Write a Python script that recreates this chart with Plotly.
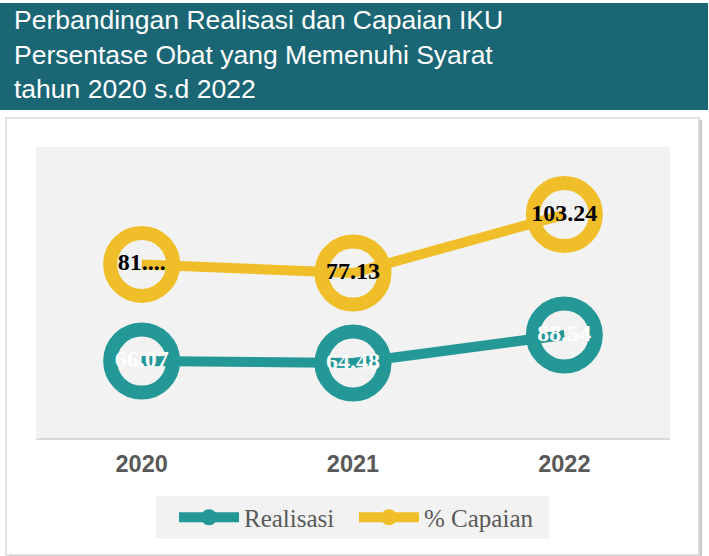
import plotly.graph_objects as go

# ---------------- data ----------------
years = ["2020", "2021", "2022"]
realisasi = [66.07, 64.48, 88.54]
capaian = [81.0, 77.13, 103.24]
realisasi_labels = ["66.07", "64.48", "88.54"]
capaian_labels = ["81....", "77.13", "103.24"]
series_names = ["Realisasi", "% Capaian"]
title_lines = [
    "Perbandingan Realisasi dan Capaian IKU",
    "Persentase Obat yang Memenuhi Syarat",
    "tahun 2020 s.d 2022",
]

# ---------------- style ----------------
W, H = 709, 556
ML, MR, MT, MB = 36, 39, 147, 118
PW = W - ML - MR
PH = H - MT - MB
TEAL = "#249797"
YELLOW = "#f0be28"
BANNER = "#1b6675"
GRAY_TXT = "#595959"
PLOT_BG = "#f2f2f2"


def px_x(px):
    return (px - ML) / PW


def px_y(py):
    return (H - MB - py) / PH


fig = go.Figure()

# main series
fig.add_trace(go.Scatter(
    x=years, y=realisasi, name=series_names[0], mode="lines+markers+text",
    line=dict(color=TEAL, width=10),
    marker=dict(size=63, color="rgba(0,0,0,0)", line=dict(color=TEAL, width=14)),
    text=realisasi_labels, textposition="middle center",
    textfont=dict(family="Liberation Serif", size=24, color="white", weight="bold"),
    showlegend=False, yaxis="y", cliponaxis=False,
))
fig.add_trace(go.Scatter(
    x=years, y=capaian, name=series_names[1], mode="lines+markers+text",
    line=dict(color=YELLOW, width=10),
    marker=dict(size=63, color="rgba(0,0,0,0)", line=dict(color=YELLOW, width=14)),
    text=capaian_labels, textposition="middle center",
    textfont=dict(family="Liberation Serif", size=24, color="black", weight="bold"),
    showlegend=False, yaxis="y2", cliponaxis=False,
))

# legend entries
for nm, col in zip(series_names, [TEAL, YELLOW]):
    fig.add_trace(go.Scatter(
        x=[None], y=[None], name=nm, mode="lines+markers",
        line=dict(color=col, width=10),
        marker=dict(size=20, color=col),
        showlegend=True,
    ))

shapes = [
    # frame shadow
    dict(type="rect", xref="paper", yref="paper", layer="below",
         x0=px_x(9), x1=px_x(702), y0=px_y(557), y1=px_y(120),
         fillcolor="#c9c9c9", line=dict(width=0)),
    # frame
    dict(type="rect", xref="paper", yref="paper", layer="below",
         x0=px_x(6), x1=px_x(699), y0=px_y(555), y1=px_y(118),
         fillcolor="white", line=dict(color="#d9d9d9", width=1.5)),
    # plot area background
    dict(type="rect", xref="paper", yref="paper", layer="below",
         x0=0, x1=1, y0=0, y1=1,
         fillcolor=PLOT_BG, line=dict(width=0)),
    # title banner
    dict(type="rect", xref="paper", yref="paper", layer="below",
         x0=px_x(0), x1=px_x(708), y0=px_y(110), y1=px_y(3),
         fillcolor=BANNER, line=dict(width=0)),
    # legend background
    dict(type="rect", xref="paper", yref="paper", layer="below",
         x0=px_x(156), x1=px_x(549), y0=px_y(539), y1=px_y(496),
         fillcolor=PLOT_BG, line=dict(width=0)),
]

annotations = []
for line_txt, cy in zip(title_lines, [20, 55, 89]):
    annotations.append(dict(
        text=line_txt, xref="paper", yref="paper",
        x=px_x(12), y=px_y(cy), xanchor="left", yanchor="middle",
        showarrow=False,
        font=dict(family="Liberation Sans", size=26.5, color="white"),
    ))

fig.update_layout(
    width=W, height=H,
    margin=dict(l=ML, r=MR, t=MT, b=MB, pad=0),
    paper_bgcolor="white",
    plot_bgcolor=PLOT_BG,
    shapes=shapes,
    annotations=annotations,
    xaxis=dict(
        type="category", range=[-0.5, 2.5], showgrid=False, zeroline=False,
        showline=True, linecolor="#d9d9d9", linewidth=2,
        ticks="", ticklabelstandoff=4,
        tickfont=dict(family="Liberation Sans", size=23.5, color=GRAY_TXT, weight="bold"),
    ),
    yaxis=dict(range=[0, 250], visible=False),
    yaxis2=dict(range=[3.5, 133.4], visible=False, overlaying="y"),
    legend=dict(
        orientation="h", x=px_x(174), y=px_y(517.5), xanchor="left", yanchor="middle",
        bgcolor="rgba(0,0,0,0)", itemwidth=60, entrywidth=105,
        font=dict(family="Liberation Serif", size=25, color=GRAY_TXT),
        traceorder="normal",
    ),
)

fig.write_html("out.html", config={"displayModeBar": False},
               post_script="document.body.style.margin='0';")
